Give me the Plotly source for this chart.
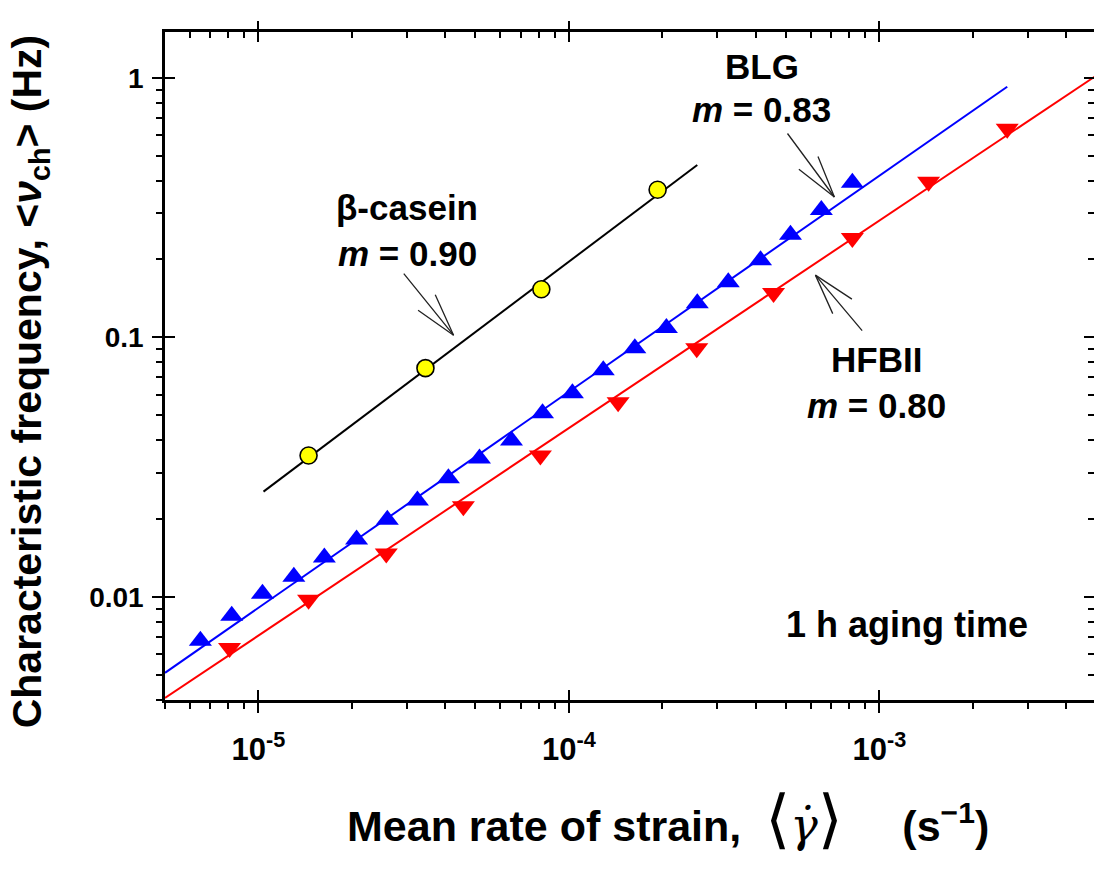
import numpy as np
import plotly.graph_objects as go

# ---------------- data ----------------
casein_x = [1.45e-5, 3.45e-5, 8.15e-5, 1.93e-4]
casein_y = [0.035, 0.076, 0.153, 0.37]

blg_x = [6.5e-6, 8.2e-6, 1.03e-5, 1.30e-5, 1.63e-5, 2.07e-5, 2.60e-5, 3.25e-5,
         4.09e-5, 5.15e-5, 6.53e-5, 8.22e-5, 1.026e-4, 1.29e-4, 1.63e-4, 2.06e-4,
         2.59e-4, 3.26e-4, 4.14e-4, 5.17e-4, 6.50e-4, 8.18e-4]
blg_y = [0.00676, 0.00845, 0.01027, 0.01194, 0.01415, 0.0166, 0.0198, 0.0235,
         0.0286, 0.0341, 0.0400, 0.0509, 0.0608, 0.0746, 0.0907, 0.1084,
         0.1352, 0.163, 0.198, 0.248, 0.309, 0.394]

hfb_x = [8.07e-6, 1.45e-5, 2.58e-5, 4.57e-5, 8.09e-5, 1.44e-4, 2.58e-4,
         4.56e-4, 8.18e-4, 1.44e-3, 2.58e-3]
hfb_y = [0.00635, 0.00973, 0.01466, 0.0223, 0.0350, 0.0561, 0.0907,
         0.148, 0.241, 0.397, 0.636]

# power-law fit lines (end points)
casein_fit_x = [1.038e-5, 2.59e-4]
casein_fit_y = [0.0254, 0.461]
blg_fit_x = [5e-6, 2.58e-3]
blg_fit_y = [0.00509, 0.923]
hfb_fit_x = [5e-6, 5e-3]
hfb_fit_y = [0.00407, 1.02]

series_names = ["β-casein", "BLG", "HFBII"]
slopes = ["0.90", "0.83", "0.80"]

# arrow tips (data coordinates) for the three labels
arrow_tip_x = [4.25e-5, 7.16e-4, 6.22e-4]
arrow_tip_y = [0.1018, 0.347, 0.1735]

# axes
x_limits = [5e-6, 4.91e-3]
y_limits = [0.004, 1.5]
x_major = [1e-5, 1e-4, 1e-3]
x_major_text = ["10<sup>-5</sup>", "10<sup>-4</sup>", "10<sup>-3</sup>"]
y_major = [0.01, 0.1, 1]
y_major_text = ["0.01", "0.1", "1"]
x_minor = [k * 10.0 ** e for e in range(-6, -2) for k in range(2, 10)]
y_minor = [k * 10.0 ** e for e in range(-3, 1) for k in range(2, 10)]

# ---------------- figure ----------------
FONT = "Liberation Sans, Arial, sans-serif"
fig = go.Figure()

fig.add_trace(go.Scatter(x=casein_fit_x, y=casein_fit_y, mode="lines",
                         line=dict(color="black", width=2), showlegend=False))
fig.add_trace(go.Scatter(x=blg_fit_x, y=blg_fit_y, mode="lines",
                         line=dict(color="#0000ff", width=2), showlegend=False))
fig.add_trace(go.Scatter(x=hfb_fit_x, y=hfb_fit_y, mode="lines",
                         line=dict(color="#ff0000", width=2), showlegend=False))

fig.add_trace(go.Scatter(x=blg_x, y=blg_y, mode="markers", name="BLG",
                         marker=dict(symbol="triangle-up", size=20, color="#0000ff",
                                     line=dict(width=0)), showlegend=False))
fig.add_trace(go.Scatter(x=hfb_x, y=hfb_y, mode="markers", name="HFBII",
                         marker=dict(symbol="triangle-down", size=20, color="#ff0000",
                                     line=dict(width=0)), showlegend=False))
fig.add_trace(go.Scatter(x=casein_x, y=casein_y, mode="markers", name="β-casein",
                         marker=dict(symbol="circle", size=17, color="#ffff00",
                                     line=dict(width=1.6, color="black")), showlegend=False))

# dummy traces so that the overlay axes (extra tick sets) are drawn
for i in (2, 3, 4):
    fig.add_trace(go.Scatter(x=[], y=[], xaxis=f"x{i}", yaxis=f"y{i}",
                             showlegend=False, hoverinfo="skip"))

xr = [float(np.log10(v)) for v in x_limits]
yr = [float(np.log10(v)) for v in y_limits]

base = dict(type="log", showgrid=False, zeroline=False, tickcolor="black",
            tickwidth=2, ticklen=10, tickmode="array", automargin=False)

xtickfont = dict(family=FONT, size=31, color="black", weight="bold")
ytickfont = dict(family=FONT, size=28, color="black", weight="bold")

fig.update_layout(
    width=1094, height=870,
    margin=dict(l=165, r=0, t=32, b=170, pad=0, autoexpand=False),
    paper_bgcolor="white", plot_bgcolor="white",
    xaxis=dict(**base, range=xr, tickvals=x_major, ticktext=x_major_text,
               ticks="outside", showline=True, linewidth=2.5, linecolor="black",
               tickfont=xtickfont, ticklabelstandoff=10,
               minor=dict(tickmode="array", tickvals=x_minor, ticks="outside",
                          ticklen=6, tickwidth=1.5, tickcolor="black")),
    xaxis2=dict(**base, range=xr, tickvals=x_major, ticks="inside", overlaying="x",
                anchor="y", side="bottom", showticklabels=False, showline=False),
    xaxis3=dict(**base, range=xr, tickvals=x_major, ticks="inside", overlaying="x",
                anchor="y", side="top", showticklabels=False, showline=True,
                linewidth=2.5, linecolor="black",
                minor=dict(tickmode="array", tickvals=x_minor, ticks="inside",
                           ticklen=6, tickwidth=1.5, tickcolor="black")),
    xaxis4=dict(**base, range=xr, tickvals=x_major, ticks="outside", overlaying="x",
                anchor="y", side="top", showticklabels=False, showline=False),
    yaxis=dict(**base, range=yr, tickvals=y_major, ticktext=y_major_text,
               ticks="outside", showline=True, linewidth=2.5, linecolor="black",
               tickfont=ytickfont, ticklabelstandoff=3,
               minor=dict(tickmode="array", tickvals=y_minor, ticks="outside",
                          ticklen=6, tickwidth=1.5, tickcolor="black")),
    yaxis2=dict(**base, range=yr, tickvals=y_major, ticks="inside", overlaying="y",
                anchor="x", side="left", showticklabels=False, showline=False),
    yaxis3=dict(**base, range=yr, tickvals=y_major, ticks="inside", overlaying="y",
                anchor="x", side="right", showticklabels=False, showline=True,
                linewidth=2.5, linecolor="black",
                minor=dict(tickmode="array", tickvals=y_minor, ticks="inside",
                           ticklen=6, tickwidth=1.5, tickcolor="black")),
    yaxis4=dict(**base, range=yr, tickvals=y_major, ticks="", overlaying="y",
                anchor="x", side="right", showticklabels=False, showline=False),
    showlegend=False,
)

lab_font = dict(family=FONT, size=35, color="black", weight="bold")
annotations = []

# label texts (paper coordinates)
label_pos = [(0.2605, 0.738, 0.669), (0.6426, 0.949, 0.8847), (0.7664, 0.509, 0.4416)]
for name, m, (xp, y1, y2) in zip(series_names, slopes, label_pos):
    annotations.append(dict(x=xp, y=y1, xref="paper", yref="paper", text=name,
                            showarrow=False, font=lab_font, xanchor="center", yanchor="middle"))
    annotations.append(dict(x=xp, y=y2, xref="paper", yref="paper",
                            text=f"<i>m</i> = {m}", showarrow=False, font=lab_font,
                            xanchor="center", yanchor="middle"))

annotations.append(dict(x=0.7987, y=0.1125, xref="paper", yref="paper",
                        text="1 h aging time", showarrow=False,
                        font=dict(family=FONT, size=36, color="black", weight="bold"),
                        xanchor="center", yanchor="middle"))

# arrows: shaft + two barbs (pixel offsets from the tip)
arrow_offsets = [
    [(-51, -63), (-37, -26), (-19, -42)],
    [(-48, -65), (-37, -29), (-17, -42)],
    [(48, 57), (38, 25), (18, 40)],
]
for tx, ty, offs in zip(arrow_tip_x, arrow_tip_y, arrow_offsets):
    for (ax, ay) in offs:
        annotations.append(dict(x=float(np.log10(tx)), y=float(np.log10(ty)),
                                xref="x", yref="y", ax=ax, ay=ay, text="",
                                showarrow=True, arrowhead=0, arrowwidth=1.3,
                                arrowcolor="#222222", standoff=0, startstandoff=0))

# axis titles
serif = "font-family:'DejaVu Serif';font-weight:normal"
xtitle = ("Mean rate of strain,\u00a0\u00a0"
          f"<span style=\"{serif};font-size:64px\">\u27e8</span>"
          f"<span style=\"{serif};font-size:46px\"><i>\u03b3\u0307</i></span>"
          f"<span style=\"{serif};font-size:64px\">\u27e9</span>"
          "\u00a0\u00a0\u00a0\u00a0\u00a0(s<sup>\u22121</sup>)")
annotations.append(dict(x=0.5415, y=-0.178, xref="paper", yref="paper", text=xtitle,
                        showarrow=False, xanchor="center", yanchor="middle",
                        font=dict(family=FONT, size=43, color="black", weight="bold")))

ytitle = "Characteristic frequency, &lt;<i>\u03bd</i><sub>ch</sub>&gt; (Hz)"
annotations.append(dict(x=-0.145, y=0.4775, xref="paper", yref="paper", text=ytitle,
                        textangle=-90, showarrow=False, xanchor="center", yanchor="middle",
                        font=dict(family=FONT, size=41, color="black", weight="bold")))

fig.update_layout(annotations=annotations)

fig.write_html("out.html")
